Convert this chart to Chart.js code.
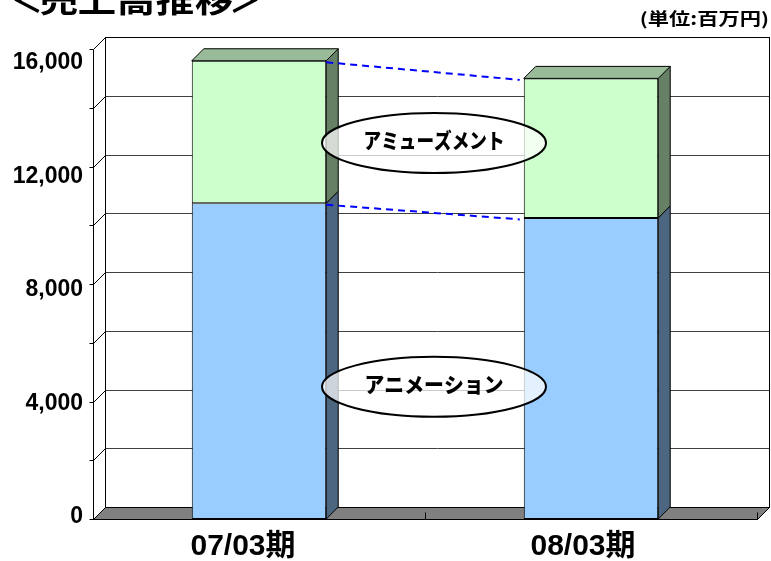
<!DOCTYPE html>
<html lang="ja">
<head>
  <meta charset="UTF-8" />
  <title>売上高推移</title>
  <script src="https://cdn.jsdelivr.net/npm/chart.js"></script>
  <style>
    html, body {
      margin: 0;
      padding: 0;
      background: #fff;
    }
    canvas {
      display: block;
    }
  </style>
</head>
<body>
  <canvas id="salesChart" width="771" height="561"></canvas>

  <script>
    // 売上高（百万円）
    const periods = ['07/03期', '08/03期'];
    const animation = [10750, 10250];
    const amusement = [4850, 4750];
    const segmentNames = ['アニメーション', 'アミューズメント'];
    const yLabels = [0, 4000, 8000, 12000, 16000];
    const gridSteps = [0, 2000, 4000, 6000, 8000, 10000, 12000, 14000, 16000];

    // depth of the fake 3D box
    const DX = 12, DY = 12;

    const frontColors = ['#99CCFF', '#CCFFCC'];
    const sideColors = ['#4D6680', '#668066'];
    const topColors = ['#7399BF', '#99BB99'];

    const CJK = '"Noto Sans CJK JP", sans-serif';
    const LATIN = '"Liberation Sans", Arial, "Noto Sans CJK JP", sans-serif';

    function seg(ctx, x1, y1, x2, y2) {
      ctx.beginPath();
      ctx.moveTo(x1, y1);
      ctx.lineTo(x2, y2);
      ctx.stroke();
    }

    function poly(ctx, pts, fill) {
      ctx.beginPath();
      ctx.moveTo(pts[0][0], pts[0][1]);
      for (let i = 1; i < pts.length; i++) ctx.lineTo(pts[i][0], pts[i][1]);
      ctx.closePath();
      if (fill) {
        ctx.fillStyle = fill;
        ctx.fill();
      }
      ctx.stroke();
    }

    // text squeezed/stretched horizontally to a given width
    function fitText(ctx, text, cx, cy, font, width) {
      ctx.save();
      ctx.font = font;
      const w = ctx.measureText(text).width;
      ctx.translate(cx, cy);
      ctx.scale(width / w, 1);
      ctx.textAlign = 'center';
      ctx.textBaseline = 'middle';
      ctx.fillText(text, 0, 0);
      ctx.restore();
    }

    const box3d = {
      id: 'box3d',
      beforeDatasetsDraw(chart) {
        const { ctx, chartArea: a, scales: { x, y } } = chart;
        const L = a.left + 0.5, R = a.right + 0.5, T = a.top, B = a.bottom + 0.5;
        ctx.save();
        ctx.lineWidth = 1;

        // back wall
        ctx.fillStyle = '#fff';
        ctx.fillRect(L + DX, T - DY, R - L, B - T);

        gridSteps.forEach(v => {
          const py = Math.round(y.getPixelForValue(v)) + 0.5;
          ctx.strokeStyle = '#404040';
          seg(ctx, L + DX, py - DY, R + DX, py - DY);
          ctx.strokeStyle = '#000';
          seg(ctx, L, py, L + DX, py - DY);
          seg(ctx, L - 4, py, L, py);
        });

        ctx.strokeStyle = '#000';
        ctx.strokeRect(L + DX, Math.round(T) - DY + 0.5, R - L, B - Math.round(T) - 0.5);
        seg(ctx, L, Math.round(T) + 0.5, L, B);

        // floor
        poly(ctx, [[L, B], [L + DX, B - DY], [R + DX, B - DY], [R, B]], '#808080');

        // category boundary ticks
        const n = chart.data.labels.length;
        for (let i = 1; i <= n; i++) {
          const px = Math.round((x.getPixelForValue(i - 1) + (i < n ? x.getPixelForValue(i) : 2 * x.getPixelForValue(i - 1) - x.getPixelForValue(i - 2))) / 2) + 0.5;
          seg(ctx, px, B, px, B - 7);
        }
        ctx.restore();
      },

      afterDatasetsDraw(chart) {
        const { ctx, chartArea: a, scales: { x, y } } = chart;
        const nSets = chart.data.datasets.length;
        ctx.save();
        ctx.strokeStyle = '#000';
        ctx.lineWidth = 1;

        // bar sides and tops
        const bars = [];
        for (let di = 0; di < nSets; di++) {
          const meta = chart.getDatasetMeta(di);
          bars.push(meta.data.map(bar => bar.getProps(['x', 'y', 'base', 'width'], true)));
          bars[di].forEach(b => {
            const l = b.x - b.width / 2, r = b.x + b.width / 2;
            poly(ctx, [[r, b.y], [r + DX, b.y - DY], [r + DX, b.base - DY], [r, b.base]], sideColors[di]);
            if (di === nSets - 1) {
              poly(ctx, [[l, b.y], [l + DX, b.y - DY], [r + DX, b.y - DY], [r, b.y]], topColors[di]);
            }
          });
        }

        // dashed connectors between the period bars
        ctx.strokeStyle = '#0000FF';
        ctx.lineWidth = 2;
        ctx.setLineDash([7, 5]);
        bars.forEach(set => {
          const b0 = set[0], b1 = set[1];
          seg(ctx, b0.x + b0.width / 2, b0.y + 1.5, b1.x - b1.width / 2 - 4, b1.y + 1.5);
        });
        ctx.setLineDash([]);

        // segment name balloons
        const midX = (bars[0][0].x + bars[0][1].x) / 2 + 9;
        const balloonAt = [4500, 12800];
        const textWidth = [139, 141];
        segmentNames.forEach((name, i) => {
          const cy = y.getPixelForValue(balloonAt[i]);
          ctx.beginPath();
          ctx.ellipse(midX, cy, 112, 30, 0, 0, Math.PI * 2);
          ctx.fillStyle = 'rgba(255,255,255,0.72)';
          ctx.fill();
          ctx.strokeStyle = '#000';
          ctx.lineWidth = 2;
          ctx.stroke();
          ctx.fillStyle = '#000';
          fitText(ctx, name, midX, cy - 3, '900 21px ' + CJK, textWidth[i]);
        });

        // value axis labels
        ctx.fillStyle = '#000';
        ctx.font = 'bold 23px ' + LATIN;
        ctx.textAlign = 'right';
        ctx.textBaseline = 'middle';
        yLabels.forEach(v => {
          const py = a.bottom + (y.getPixelForValue(v) - a.bottom) * 0.9655 - 2.3;
          ctx.fillText(v.toLocaleString('en-US'), 83, py);
        });

        // period labels
        ctx.font = 'bold 30px ' + LATIN;
        ctx.textAlign = 'center';
        const areaMid = (a.left + a.right) / 2;
        chart.data.labels.forEach((lab, i) => {
          const cx = x.getPixelForValue(i);
          ctx.fillText(lab, cx + (cx - areaMid) * 0.024 - 12, 547);
        });

        // heading, set glyph by glyph (brackets are narrower)
        ctx.font = 'bold 32px ' + CJK;
        ctx.textBaseline = 'alphabetic';
        const heading = ['＜', '売', '上', '高', '推', '移', '＞'];
        const headX = [27, 59, 97, 136, 175, 214, 245];
        const headStretch = [1, 1.2, 1.2, 1.2, 1.2, 1.2, 1];
        heading.forEach((ch, i) => {
          ctx.save();
          ctx.translate(headX[i], 12);
          ctx.scale(headStretch[i], 1);
          ctx.textAlign = 'center';
          ctx.fillText(ch, 0, 0);
          ctx.restore();
        });

        ctx.save();
        ctx.font = 'bold 17px ' + CJK;
        ctx.textAlign = 'right';
        ctx.textBaseline = 'middle';
        ctx.translate(769, 19);
        ctx.scale(1.25, 1);
        ctx.fillText('(単位:百万円)', 0, 0);
        ctx.restore();

        ctx.restore();
      }
    };

    new Chart(document.getElementById('salesChart'), {
      type: 'bar',
      data: {
        labels: periods,
        datasets: [
          {
            label: segmentNames[0],
            data: animation,
            backgroundColor: frontColors[0],
            borderColor: '#000',
            borderWidth: 1,
            borderSkipped: false
          },
          {
            label: segmentNames[1],
            data: amusement,
            backgroundColor: frontColors[1],
            borderColor: '#000',
            borderWidth: 1,
            borderSkipped: false
          }
        ]
      },
      options: {
        responsive: false,
        animation: false,
        layout: {
          padding: { left: 93, right: 14, top: 49, bottom: 42 }
        },
        datasets: {
          bar: { categoryPercentage: 1, barPercentage: 0.405 }
        },
        scales: {
          x: { display: false, stacked: true },
          y: { display: false, stacked: true, min: 0, max: 16000 }
        },
        plugins: {
          legend: { display: false },
          tooltip: { enabled: false }
        }
      },
      plugins: [box3d]
    });
  </script>
</body>
</html>
